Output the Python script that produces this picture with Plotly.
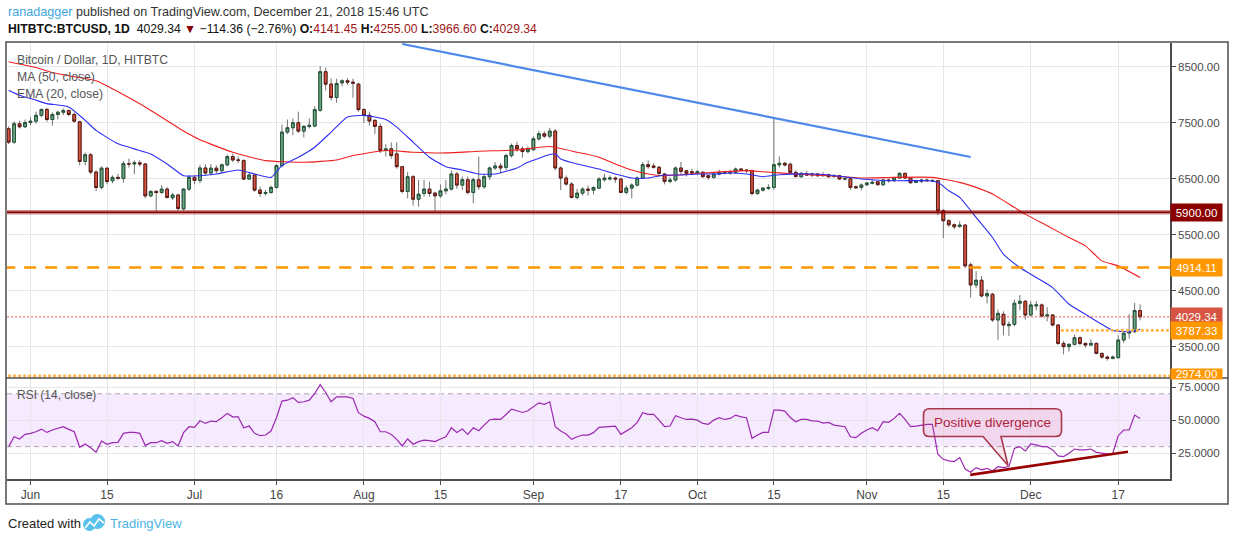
import plotly.graph_objects as go
import pandas as pd

# ---------------- data ----------------
dates = pd.date_range("2018-05-28", "2018-12-21", freq="D")

open_ = [
    7395, 7155, 7485, 7430,
    7505, 7530, 7635, 7740, 7560, 7650, 7690, 7720, 7650, 7520, 6810, 6930, 6620, 6345, 6690,
    6465, 6525, 6505, 6770, 6765, 6785, 6765, 6195, 6273, 6255, 6315, 6160, 6210, 5960, 6315,
    6525, 6470, 6693, 6603, 6690, 6645, 6750, 6897, 6837, 6825, 6495, 6567, 6297, 6237, 6255,
    6345, 6735, 7335, 7413, 7503, 7353, 7437, 7443, 7725, 8415, 8193, 7953, 8217, 8253, 8229, 8193,
    7737, 7635, 7545, 7437, 7005, 7035, 6945, 6717, 6273, 6537, 6135, 6237, 6315, 6243, 6195,
    6285, 6315, 6585, 6387, 6483, 6255, 6483, 6357, 6537, 6693, 6729, 6705, 6915, 7095, 7035, 6987,
    7020, 7215, 7305, 7263, 7353, 6693, 6513, 6405, 6165, 6243, 6315, 6297, 6333, 6483, 6495,
    6513, 6495, 6255, 6333, 6387, 6513, 6753, 6729, 6705, 6585, 6453, 6477, 6693, 6645, 6627,
    6603, 6615, 6555, 6525, 6585, 6603, 6603, 6615, 6675, 6657, 6645, 6237, 6297, 6327, 6345,
    6750, 6777, 6760, 6615, 6537, 6590, 6567, 6585, 6555, 6573, 6540, 6555, 6496, 6500, 6358, 6346,
    6394, 6418, 6448, 6394, 6478, 6466, 6514, 6597, 6514, 6436, 6454, 6478, 6460, 6466, 5928,
    5749, 5677, 5647, 5671, 4960, 4601, 4685, 4404, 4434, 3974, 4075, 3872, 3896, 4273, 4308,
    4063, 4225, 4243, 4045, 4063, 3884, 3555, 3496, 3537, 3657, 3555, 3526, 3555, 3376, 3310,
    3287, 3299, 3615, 3740, 3765, 4141.45,
]
high_ = [
    7440, 7530, 7540, 7560,
    7600, 7700, 7760, 7770, 7690, 7720, 7760, 7740, 7690, 7540, 6970, 6960, 6650, 6720, 6700,
    6560, 6590, 6820, 6860, 6830, 6830, 6780, 6300, 6300, 6390, 6350, 6250, 6230, 6330, 6560,
    6560, 6750, 6760, 6760, 6740, 6770, 6930, 6950, 6900, 6850, 6600, 6590, 6360, 6300, 6380,
    6760, 7470, 7560, 7580, 7700, 7460, 7580, 7800, 8517, 8490, 8300, 8290, 8280, 8300, 8290, 8220,
    7760, 7700, 7560, 7490, 7120, 7150, 7150, 6730, 6620, 6570, 6480, 6480, 6450, 6270, 6400,
    6480, 6650, 6620, 6540, 6540, 6520, 6897, 6580, 6720, 6800, 6780, 6950, 7130, 7160, 7080, 7080,
    7260, 7360, 7350, 7410, 7390, 6720, 6560, 6440, 6320, 6350, 6380, 6360, 6530, 6590, 6560,
    6540, 6520, 6380, 6420, 6540, 6800, 6830, 6780, 6730, 6600, 6530, 6720, 6800, 6660, 6680,
    6660, 6640, 6570, 6620, 6660, 6640, 6660, 6700, 6690, 6670, 6660, 6320, 6350, 6400, 7585,
    6900, 6800, 6790, 6650, 6620, 6640, 6610, 6600, 6620, 6590, 6580, 6570, 6530, 6520, 6380, 6420,
    6440, 6480, 6460, 6500, 6500, 6530, 6620, 6610, 6520, 6480, 6490, 6500, 6490, 6480, 5960,
    5780, 5700, 5740, 5690, 5000, 4850, 4760, 4520, 4460, 4160, 4130, 3950, 4340, 4420, 4330,
    4310, 4310, 4270, 4200, 4080, 3900, 3600, 3560, 3710, 3680, 3570, 3630, 3570, 3390, 3340,
    3340, 3700, 3760, 4080, 4280, 4255.00,
]
low_ = [
    7120, 7130, 7400, 7410,
    7460, 7480, 7600, 7520, 7450, 7560, 7640, 7620, 7500, 6740, 6740, 6580, 6280, 6310, 6400,
    6420, 6480, 6430, 6700, 6580, 6720, 6150, 6170, 5925, 6230, 6150, 6120, 5930, 5930, 6280,
    6400, 6420, 6570, 6560, 6600, 6610, 6720, 6800, 6780, 6480, 6480, 6270, 6180, 6200, 6230,
    6320, 6700, 7300, 7280, 7320, 7240, 7400, 7420, 7700, 8080, 7900, 7860, 8150, 8180, 7950, 7700,
    7500, 7450, 7300, 6960, 6900, 6860, 6680, 6240, 6150, 6020, 6000, 6180, 6180, 5925, 6160,
    6220, 6290, 6320, 6300, 6220, 6060, 6300, 6320, 6480, 6660, 6600, 6650, 6880, 6980, 6880, 6950,
    7000, 7180, 7230, 7220, 6650, 6300, 6380, 6150, 6130, 6200, 6200, 6220, 6320, 6450, 6470,
    6430, 6240, 6220, 6150, 6360, 6500, 6680, 6680, 6570, 6400, 6420, 6450, 6580, 6540, 6580,
    6560, 6520, 6480, 6500, 6560, 6580, 6570, 6590, 6630, 6600, 6200, 6210, 6270, 6300, 6300,
    6700, 6720, 6580, 6520, 6520, 6550, 6530, 6530, 6540, 6520, 6520, 6480, 6470, 6300, 6320, 6290,
    6370, 6400, 6380, 6370, 6430, 6450, 6500, 6500, 6410, 6420, 6420, 6450, 6440, 5850, 5438,
    5640, 5600, 5620, 4900, 4374, 4540, 4380, 4270, 3940, 3620, 3700, 3690, 3860, 4150, 3980,
    4040, 4150, 4020, 3950, 3860, 3530, 3360, 3410, 3520, 3520, 3480, 3510, 3360, 3280, 3245,
    3270, 3290, 3560, 3640, 3740, 3966.60,
]
close_ = [
    7155, 7485, 7430, 7505,
    7530, 7635, 7740, 7560, 7650, 7690, 7720, 7650, 7530, 6810, 6930, 6620, 6345, 6690, 6450,
    6525, 6510, 6770, 6765, 6785, 6765, 6195, 6273, 6255, 6315, 6165, 6210, 5967, 6315, 6525,
    6470, 6693, 6603, 6690, 6645, 6750, 6897, 6837, 6830, 6495, 6567, 6297, 6237, 6255, 6345,
    6735, 7335, 7413, 7503, 7353, 7437, 7455, 7737, 8415, 8193, 7953, 8205, 8253, 8229, 8210, 7737,
    7635, 7533, 7437, 7005, 7035, 6915, 6717, 6273, 6537, 6135, 6225, 6315, 6237, 6195, 6285,
    6315, 6585, 6387, 6483, 6255, 6483, 6357, 6537, 6693, 6729, 6693, 6915, 7095, 7035, 6987, 7035,
    7215, 7305, 7263, 7353, 6693, 6513, 6405, 6165, 6243, 6315, 6297, 6345, 6495, 6513, 6513,
    6495, 6255, 6333, 6387, 6513, 6753, 6717, 6705, 6597, 6453, 6477, 6693, 6633, 6597, 6603,
    6627, 6537, 6525, 6585, 6615, 6615, 6627, 6675, 6657, 6645, 6237, 6297, 6333, 6345, 6753,
    6777, 6747, 6615, 6540, 6597, 6567, 6585, 6555, 6573, 6537, 6560, 6496, 6500, 6346, 6340, 6388,
    6424, 6436, 6394, 6478, 6466, 6514, 6597, 6514, 6430, 6466, 6478, 6466, 6470, 5928, 5749,
    5677, 5641, 5671, 4942, 4601, 4685, 4404, 4446, 3974, 4093, 3884, 3896, 4273, 4308, 4063,
    4243, 4243, 4045, 4063, 3884, 3555, 3496, 3537, 3657, 3555, 3526, 3555, 3376, 3310, 3287,
    3310, 3615, 3735, 3765, 4143.70, 4029.34,
]
rsi14 = [
    30.0, 37.5, 35.8, 39.3,
    40.1, 41.3, 43.3, 40.8, 42.6, 43.6, 45.1, 43.1, 41.3, 29.5, 32.0, 29.2, 25.7, 34.3, 31.8,
    33.0, 33.3, 40.1, 40.8, 40.8, 40.1, 30.8, 33.0, 33.0, 34.5, 32.5, 33.8, 30.5, 40.6, 45.1,
    44.6, 49.6, 47.6, 49.4, 48.9, 51.9, 55.2, 52.6, 52.6, 44.3, 45.6, 40.1, 38.3, 38.8, 41.8,
    51.9, 64.5, 65.2, 67.0, 63.5, 64.0, 65.2, 70.3, 77.0, 71.0, 64.0, 67.7, 67.7, 67.7, 66.5, 55.7,
    53.1, 51.4, 48.9, 41.3, 41.3, 39.3, 35.5, 30.5, 35.8, 31.8, 33.8, 35.0, 34.5, 33.8, 35.8,
    37.5, 44.3, 40.8, 43.3, 39.3, 44.3, 42.1, 46.3, 50.4, 50.9, 50.6, 54.4, 58.4, 57.2, 55.9, 57.2,
    60.2, 63.2, 62.0, 64.0, 45.1, 41.8, 39.6, 35.5, 37.5, 38.8, 38.8, 40.6, 44.6, 45.1, 45.6,
    45.6, 39.3, 41.8, 44.3, 48.4, 55.7, 54.4, 54.4, 50.1, 45.1, 45.6, 53.4, 51.9, 50.6, 50.9,
    50.1, 47.6, 46.9, 50.1, 51.9, 50.6, 51.4, 53.9, 52.6, 51.9, 36.3, 38.8, 40.8, 40.8, 57.7,
    57.7, 56.9, 52.1, 48.9, 50.6, 50.6, 49.6, 49.4, 47.9, 48.4, 46.3, 45.6, 45.1, 37.5, 36.8, 40.1,
    42.6, 44.3, 42.1, 48.9, 48.4, 51.4, 55.2, 50.6, 45.1, 45.6, 46.3, 46.9, 46.9, 24.2, 20.4,
    19.2, 18.7, 21.7, 13.1, 10.6, 14.1, 12.4, 13.6, 11.6, 14.9, 14.1, 14.9, 28.7, 30.0, 26.7,
    32.0, 31.3, 30.0, 30.0, 27.5, 23.0, 22.5, 25.0, 28.2, 27.5, 27.5, 28.2, 25.7, 25.0, 24.5,
    25.0, 38.3, 42.6, 42.6, 53.9, 51.4,
]

ma50_dates = ["2018-05-28", "2018-06-02", "2018-06-05", "2018-06-09", "2018-06-13", "2018-06-22",
              "2018-06-29", "2018-07-02", "2018-07-08", "2018-07-14", "2018-07-21", "2018-07-27",
              "2018-07-30", "2018-08-05", "2018-08-10", "2018-08-16", "2018-08-22", "2018-08-29",
              "2018-09-04", "2018-09-09", "2018-09-13", "2018-09-16", "2018-09-19", "2018-09-22",
              "2018-09-25", "2018-09-28", "2018-10-04", "2018-10-10", "2018-10-13", "2018-10-19",
              "2018-10-25", "2018-10-31", "2018-11-06", "2018-11-13", "2018-11-18", "2018-11-21",
              "2018-11-24", "2018-11-28", "2018-11-30", "2018-12-04", "2018-12-08", "2018-12-11",
              "2018-12-14", "2018-12-17", "2018-12-21"]
ma50_vals = [8595, 8490, 8400, 8325, 8253, 7785, 7353, 7197, 6975, 6825, 6795, 6837, 6915, 7005,
             6975, 6963, 6993, 7017, 7077, 6975, 6885, 6765, 6657, 6585, 6555, 6573, 6615, 6645,
             6627, 6585, 6555, 6514, 6525, 6525, 6436, 6346, 6227, 5988, 5868, 5659, 5450, 5300,
             5031, 4942, 4733]

ema20_dates = ["2018-05-28", "2018-05-30", "2018-06-02", "2018-06-04", "2018-06-08", "2018-06-11",
               "2018-06-13", "2018-06-17", "2018-06-20", "2018-06-23", "2018-06-26", "2018-06-29",
               "2018-07-02", "2018-07-05", "2018-07-09", "2018-07-12", "2018-07-15", "2018-07-17",
               "2018-07-20", "2018-07-23", "2018-07-26", "2018-07-29", "2018-08-01", "2018-08-05",
               "2018-08-07", "2018-08-10", "2018-08-13", "2018-08-16", "2018-08-19", "2018-08-22",
               "2018-08-25", "2018-08-29", "2018-08-31", "2018-09-04", "2018-09-05", "2018-09-06",
               "2018-09-09", "2018-09-13", "2018-09-16", "2018-09-19", "2018-09-22", "2018-09-25",
               "2018-09-28", "2018-10-01", "2018-10-04", "2018-10-07", "2018-10-10", "2018-10-13",
               "2018-10-16", "2018-10-22", "2018-10-28", "2018-10-31", "2018-11-06", "2018-11-12",
               "2018-11-14", "2018-11-16", "2018-11-18", "2018-11-21", "2018-11-24", "2018-11-26",
               "2018-11-29", "2018-12-02", "2018-12-05", "2018-12-08", "2018-12-11", "2018-12-14",
               "2018-12-16", "2018-12-19", "2018-12-21"]
ema20_vals = [8085, 7995, 7905, 7845, 7785, 7545, 7365, 7125, 7035, 6945, 6765, 6555, 6555, 6585,
              6657, 6585, 6525, 6735, 6885, 7065, 7335, 7605, 7635, 7560, 7425, 7155, 6885, 6717,
              6657, 6585, 6585, 6693, 6795, 6933, 6945, 6855, 6765, 6675, 6585, 6513, 6513, 6567,
              6567, 6585, 6585, 6603, 6585, 6537, 6573, 6585, 6537, 6496, 6466, 6466, 6436, 6286,
              6167, 5808, 5450, 5151, 4912, 4733, 4553, 4255, 4075, 3896, 3788, 3765, 3806]

trend_dates = ["2018-08-08", "2018-11-20"]
trend_prices = [8911, 6890]
div_dates = ["2018-11-19 22:00", "2018-12-18 19:00"]
div_rsi = [8.6, 26.2]

level_values = [5900.00, 4914.11, 3787.33, 2974.00]
level_starts = ["2018-05-27", "2018-05-27", "2018-12-06 12:00", "2018-05-27"]

x_tick_dates = ["2018-06-01", "2018-06-15", "2018-07-01", "2018-07-16", "2018-08-01", "2018-08-15",
                "2018-09-01", "2018-09-17", "2018-10-01", "2018-10-15", "2018-11-01", "2018-11-15",
                "2018-12-01", "2018-12-17"]
x_tick_text = ["Jun", "15", "Jul", "16", "Aug", "15", "Sep", "17", "Oct", "15", "Nov", "15", "Dec", "17"]
price_ticks = [3500, 4500, 5500, 6500, 7500, 8500]
rsi_ticks = [25, 50, 75]
rsi_band = [30, 70]

# ---------------- styling / layout helpers ----------------
W, H = 1234, 541
L_PX, R_PX, T_PX, B_PX = 7, 1170, 43, 479
SPLIT_PX = 378


def fx(p):
    return (p - L_PX) / (R_PX - L_PX)


def fy(p):
    return (B_PX - p) / (B_PX - T_PX)


FONT = "Liberation Sans, Arial, sans-serif"
UP_FILL, UP_LINE = "#6BA583", "#225437"
DN_FILL, DN_LINE = "#D75442", "#5B1A13"
WICK = "#737375"
FRAME = "#4D4D4D"
GRID = "#E6E6E6"
ORANGE = "#FF9800"

body_hi = [max(o, c) for o, c in zip(open_, close_)]
body_lo = [min(o, c) for o, c in zip(open_, close_)]
high_c = [max(h, o, c) for h, o, c in zip(high_, open_, close_)]
low_c = [min(l, o, c) for l, o, c in zip(low_, open_, close_)]

fig = go.Figure()

# candles: wicks first, then bodies on top
fig.add_trace(go.Candlestick(
    x=dates, open=open_, high=high_c, low=low_c, close=close_,
    increasing=dict(line=dict(color=WICK, width=1), fillcolor=WICK),
    decreasing=dict(line=dict(color=WICK, width=1), fillcolor=WICK),
    whiskerwidth=0, showlegend=False, hoverinfo="skip", xaxis="x", yaxis="y"))
fig.add_trace(go.Candlestick(
    x=dates, open=open_, high=body_hi, low=body_lo, close=close_,
    increasing=dict(line=dict(color=UP_LINE, width=1), fillcolor=UP_FILL),
    decreasing=dict(line=dict(color=DN_LINE, width=1), fillcolor=DN_FILL),
    whiskerwidth=0, showlegend=False, xaxis="x", yaxis="y"))

fig.add_trace(go.Scatter(x=ma50_dates, y=ma50_vals, mode="lines",
                         line=dict(color="#F01E1E", width=1.1, shape="spline", smoothing=0.5),
                         showlegend=False, xaxis="x", yaxis="y"))
fig.add_trace(go.Scatter(x=ema20_dates, y=ema20_vals, mode="lines",
                         line=dict(color="#2E2EF5", width=1.1, shape="spline", smoothing=0.5),
                         showlegend=False, xaxis="x", yaxis="y"))
fig.add_trace(go.Scatter(x=trend_dates, y=trend_prices, mode="lines",
                         line=dict(color="#4D88EC", width=2.2),
                         showlegend=False, xaxis="x", yaxis="y"))

# RSI
fig.add_trace(go.Scatter(x=dates, y=rsi14, mode="lines",
                         line=dict(color="#9C27B0", width=1.2),
                         showlegend=False, xaxis="x2", yaxis="y2"))
fig.add_trace(go.Scatter(x=div_dates, y=div_rsi, mode="lines",
                         line=dict(color="#990000", width=2.6),
                         showlegend=False, xaxis="x2", yaxis="y2"))

shapes = []
# RSI band + dashed bounds
shapes.append(dict(type="rect", xref="paper", yref="y2", x0=0, x1=1, y0=rsi_band[0], y1=rsi_band[1],
                   fillcolor="rgba(153,21,255,0.09)", line=dict(width=0), layer="below"))
for v in rsi_band:
    shapes.append(dict(type="line", xref="paper", yref="y2", x0=0, x1=1, y0=v, y1=v,
                       line=dict(color="#ABA3B0", width=1, dash="5px,4px"), layer="below"))

# horizontal levels
x_end = "2018-12-26 11:00"
shapes.append(dict(type="line", xref="x", yref="y", x0=level_starts[0], x1=x_end,
                   y0=level_values[0], y1=level_values[0],
                   line=dict(color="rgba(139,0,0,0.45)", width=4.5)))
shapes.append(dict(type="line", xref="x", yref="y", x0=level_starts[0], x1=x_end,
                   y0=level_values[0], y1=level_values[0],
                   line=dict(color="#8B0000", width=1.6)))
shapes.append(dict(type="line", xref="x", yref="y", x0=level_starts[1], x1=x_end,
                   y0=level_values[1], y1=level_values[1],
                   line=dict(color=ORANGE, width=2.4, dash="12px,9px")))
for i in (2, 3):
    shapes.append(dict(type="line", xref="x", yref="y", x0=level_starts[i], x1=x_end,
                       y0=level_values[i], y1=level_values[i],
                       line=dict(color="#FFB74D", width=2.6, dash="3px,2px")))
# last price line
shapes.append(dict(type="line", xref="x", yref="y", x0="2018-05-27", x1=x_end,
                   y0=close_[-1], y1=close_[-1],
                   line=dict(color="#E0533F", width=1, dash="2px,2px")))

# frame and pane separator
shapes.append(dict(type="rect", xref="paper", yref="paper", x0=fx(6), x1=fx(1228), y0=fy(504), y1=fy(42),
                   line=dict(color=FRAME, width=1.5), fillcolor="rgba(0,0,0,0)", layer="above"))
shapes.append(dict(type="line", xref="paper", yref="paper", x0=fx(6), x1=fx(1228), y0=fy(SPLIT_PX),
                   y1=fy(SPLIT_PX), line=dict(color=FRAME, width=1.5), layer="above"))

# callout box (pixel geometry converted to paper)
bx0, bx1, by0, by1, r = 923.5, 1061.5, 408.7, 436.5, 6
pts = [("M", bx0 + r, by0), ("L", bx1 - r, by0), ("Q", bx1, by0, bx1, by0 + r), ("L", bx1, by1 - r),
       ("Q", bx1, by1, bx1 - r, by1), ("L", 1001, by1), ("L", 1008, 465.5), ("L", 983, by1),
       ("L", bx0 + r, by1), ("Q", bx0, by1, bx0, by1 - r), ("L", bx0, by0 + r),
       ("Q", bx0, by0, bx0 + r, by0)]
path = ""
for p in pts:
    cmd, coords = p[0], p[1:]
    pairs = [f"{fx(coords[k]):.5f},{fy(coords[k + 1]):.5f}" for k in range(0, len(coords), 2)]
    path += cmd + " ".join(pairs) + " "
path += "Z"
shapes.append(dict(type="path", xref="paper", yref="paper", path=path,
                   fillcolor="rgba(215,110,140,0.16)", line=dict(color="#A8384F", width=1.6)))

# TradingView logo (small cloud)
shapes.append(dict(type="circle", xref="paper", yref="paper", x0=fx(83), x1=fx(96), y0=fy(531), y1=fy(518),
                   fillcolor="#5BC0EB", line=dict(width=0)))
shapes.append(dict(type="circle", xref="paper", yref="paper", x0=fx(90), x1=fx(105), y0=fy(529), y1=fy(514),
                   fillcolor="#5BC0EB", line=dict(width=0)))
zig = [(85, 528), (90, 522), (94, 526), (99, 519), (104, 523)]
zpath = "M" + " L".join(f"{fx(a):.5f},{fy(b):.5f}" for a, b in zig)
shapes.append(dict(type="path", xref="paper", yref="paper", path=zpath,
                   line=dict(color="white", width=1.6)))

annotations = []


def note(x, y, text, size=11.5, color="#555555", xanchor="left", **kw):
    annotations.append(dict(x=fx(x), y=fy(y), xref="paper", yref="paper", text=text, showarrow=False,
                            xanchor=xanchor, yanchor="middle",
                            font=dict(family=FONT, size=size, color=color), **kw))


change = close_[-1] - close_[-2]
pct = change / close_[-2] * 100
chg_txt = f"{change:+.2f} ({pct:+.2f}%)".replace("-", "\u2212")
RED_V = "#A01818"
note(6, 12, '<span style="color:#3FA6DC">ranadagger</span> published on TradingView.com, '
            'December 21, 2018 15:46 UTC', size=12.6, color="#333333")
note(6, 29, f"<b>HITBTC:BTCUSD, 1D</b>  {close_[-1]:.2f} <span style='color:#8B0000'>\u25BC</span> "
            f"{chg_txt} <b>O:</b><span style='color:{RED_V}'>{open_[-1]:.2f}</span> "
            f"<b>H:</b><span style='color:{RED_V}'>{high_[-1]:.2f}</span> "
            f"<b>L:</b><span style='color:{RED_V}'>{low_[-1]:.2f}</span> "
            f"<b>C:</b><span style='color:{RED_V}'>{close_[-1]:.2f}</span>", size=12.2, color="#111111")
note(15, 60, "Bitcoin / Dollar, 1D, HITBTC", size=12.2, color="#555555")
note(15, 77, "MA (50, close)", size=12.2, color="#555555")
note(15, 94, "EMA (20, close)", size=12.2, color="#555555")
note(15, 395, "RSI (14, close)", size=12, color="#555555")
note(992, 422, "Positive divergence", size=13.5, color="#B0243F", xanchor="center")
note(6, 523, "Created with", size=13, color="#222222")
note(108, 523, "TradingView", size=13, color="#4CB3E5")

# price labels on the right axis
label_vals = [level_values[0], level_values[1], close_[-1], level_values[2]]
label_bgs = ["#8B0000", ORANGE, "#D75442", ORANGE]
for v, bg in zip(label_vals, label_bgs):
    annotations.append(dict(x=1, xref="paper", y=v, yref="y", xanchor="left", yanchor="middle",
                            text=f"{v:.2f}", showarrow=False, bgcolor=bg, width=49, height=15,
                            borderpad=1, align="center",
                            font=dict(family=FONT, size=11.5, color="white")))
annotations.append(dict(x=1, xref="paper", y=level_values[3], yref="y", xanchor="left", yanchor="top",
                        yshift=8, text=f"{level_values[3]:.2f}", showarrow=False, bgcolor=ORANGE,
                        width=49, height=8, borderpad=1, align="center", valign="middle",
                        font=dict(family=FONT, size=11.5, color="white")))

split = (B_PX - SPLIT_PX) / (B_PX - T_PX)
x_range = ["2018-05-27 16:48", "2018-12-26 11:17"]
axis_font = dict(family=FONT, size=11.5, color="#4A4A4A")

fig.update_layout(
    width=W, height=H, template="none",
    paper_bgcolor="white", plot_bgcolor="white",
    margin=dict(l=L_PX, r=W - R_PX, t=T_PX, b=H - B_PX, pad=0),
    showlegend=False, hovermode=False, boxgap=0.28,
    xaxis=dict(domain=[0, 1], anchor="y", type="date", range=x_range, matches="x2",
               tickvals=x_tick_dates, showticklabels=False, ticks="", showgrid=True,
               gridcolor=GRID, gridwidth=1, zeroline=False, showline=False,
               rangeslider=dict(visible=False)),
    xaxis2=dict(domain=[0, 1], anchor="y2", type="date", range=x_range,
                tickvals=x_tick_dates, ticktext=x_tick_text, ticks="outside", ticklen=4,
                tickcolor=FRAME, tickfont=dict(family=FONT, size=12, color="#444444"),
                showgrid=True, gridcolor=GRID, gridwidth=1, zeroline=False,
                showline=True, linecolor=FRAME, linewidth=1.5, rangeslider=dict(visible=False)),
    yaxis=dict(domain=[split, 1], anchor="x", side="right", range=[2936, 8929],
               tickvals=price_ticks, ticktext=[f"{v:.2f}" for v in price_ticks],
               ticks="outside", ticklen=4, tickcolor=FRAME, tickfont=axis_font,
               showgrid=True, gridcolor=GRID, zeroline=False,
               showline=True, linecolor=FRAME, linewidth=1.5),
    yaxis2=dict(domain=[0, split], anchor="x2", side="right", range=[5.5, 82.0],
                tickvals=rsi_ticks, ticktext=[f"{v:.4f}" for v in rsi_ticks],
                ticks="outside", ticklen=4, tickcolor=FRAME, tickfont=axis_font,
                showgrid=True, gridcolor=GRID, zeroline=False,
                showline=True, linecolor=FRAME, linewidth=1.5),
    shapes=shapes, annotations=annotations,
)

fig.write_html("out.html", config={"displayModeBar": False},
               post_script="document.body.style.margin='0';document.body.style.overflow='hidden';")
